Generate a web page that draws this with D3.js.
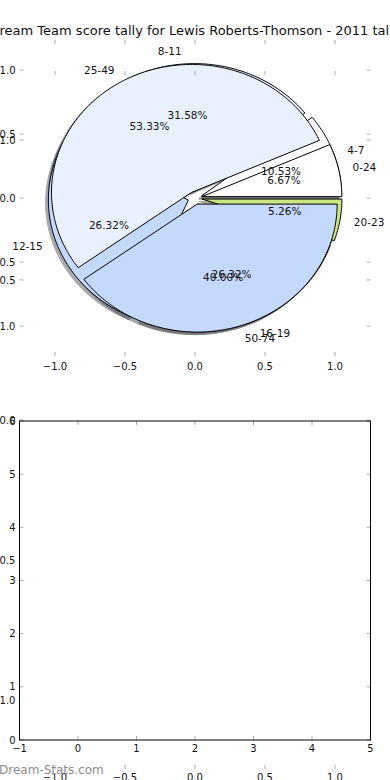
<!DOCTYPE html>
<html>
<head>
<meta charset="utf-8">
<title>Dream Team score tally</title>
<script src="https://d3js.org/d3.v7.min.js"></script>
<style>
  body { margin: 0; background: #fff; }
  svg text { font-family: "DejaVu Sans", sans-serif; }
</style>
</head>
<body>
<div id="chartDiv"></div>
<script>
var title = "Dream Team score tally for Lewis Roberts-Thomson - 2011 tally";

// score bands, drawn first (underneath)
var bandLabels = ["4-7", "8-11", "12-15", "16-19", "20-23"];
var bandCounts = [2, 6, 5, 5, 1];

// wide bands, drawn on top of the first pie
var rangeLabels = ["0-24", "25-49", "50-74"];
var rangeCounts = [1, 8, 6];

var pieTicks = [-1, -0.5, 0, 0.5, 1];
var gridXTicks = [-1, 0, 1, 2, 3, 4, 5];
var gridYTicks = [0, 1, 2, 3, 4, 5, 6];

var wedgeColors = ["#ffffff", "#eaf1fe", "#c5d9fd", "#f6e4b4", "#cbe783"];

var W = 390, H = 780;
var svg = d3.select("#chartDiv").append("svg")
  .attr("width", W).attr("height", H);

// pie axes (upper) and the second, stretched pie axes that sits behind the grid
var xPie = d3.scaleLinear().domain([-1.2536, 1.2536]).range([19.5, 370.5]);
var yTop = d3.scaleLinear().domain([-158 / 128, 158 / 128]).range([356, 40]);
var yLow = d3.scaleLinear().domain([-1.246, 1.246]).range([769, 71]);
// empty grid axes
var xGrid = d3.scaleLinear().domain([-1, 5]).range([19.5, 370.5]);
var yGrid = d3.scaleLinear().domain([0, 6]).range([740, 421]);

var fmtTick = function(v) { return d3.format(".1f")(v).replace("-", "\u2212"); };
var tickCol = "#aaa";

function tickMarks(g, x, y, ticksX, ticksY) {
  var x0 = x.range()[0], x1 = x.range()[1];
  var y0 = y.range()[1], y1 = y.range()[0];
  ticksX.forEach(function(t) {
    g.append("line").attr("x1", x(t)).attr("x2", x(t)).attr("y1", y1).attr("y2", y1 - 4)
      .attr("stroke", tickCol);
    g.append("line").attr("x1", x(t)).attr("x2", x(t)).attr("y1", y0).attr("y2", y0 + 4)
      .attr("stroke", tickCol);
  });
  ticksY.forEach(function(t) {
    g.append("line").attr("x1", x0).attr("x2", x0 + 4).attr("y1", y(t)).attr("y2", y(t))
      .attr("stroke", tickCol);
    g.append("line").attr("x1", x1).attr("x2", x1 - 4).attr("y1", y(t)).attr("y2", y(t))
      .attr("stroke", tickCol);
  });
}

function tickLabels(g, x, y, ticksX, ticksY, fmt, xBase) {
  var x0 = x.range()[0];
  ticksX.forEach(function(t) {
    g.append("text").attr("x", x(t)).attr("y", xBase)
      .attr("text-anchor", "middle").attr("font-size", 10).attr("fill", "#111")
      .text(fmt(t));
  });
  ticksY.forEach(function(t) {
    g.append("text").attr("x", x0 - 4).attr("y", y(t)).attr("dy", "0.36em")
      .attr("text-anchor", "end").attr("font-size", 10).attr("fill", "#111")
      .text(fmt(t));
  });
}

// angles counter-clockwise from 3 o'clock, like the original pie
var pie = d3.pie().sort(null)
  .startAngle(Math.PI / 2).endAngle(Math.PI / 2 - 2 * Math.PI);

var explode = 0.05;
var line = d3.line();

function wedgePath(a, dx, dy, y) {
  var cx = explode * Math.cos(a.mid) + dx, cy = explode * Math.sin(a.mid) + dy;
  var pts = [[xPie(cx), y(cy)]];
  var n = Math.max(4, Math.ceil((a.t2 - a.t1) * 60));
  for (var i = 0; i <= n; i++) {
    var t = a.t1 + (a.t2 - a.t1) * i / n;
    pts.push([xPie(cx + Math.cos(t)), y(cy + Math.sin(t))]);
  }
  return line(pts) + "Z";
}

function layout(counts, labels) {
  var arcs = pie(counts);
  var total = d3.sum(counts);
  arcs.forEach(function(a, i) {
    a.t1 = Math.PI / 2 - a.startAngle;
    a.t2 = Math.PI / 2 - a.endAngle;
    a.mid = (a.t1 + a.t2) / 2;
    a.label = labels[i];
    a.color = wedgeColors[i];
    a.pct = d3.format(".2f")(a.value / total * 100) + "%";
  });
  return arcs;
}

var pies = [layout(bandCounts, bandLabels), layout(rangeCounts, rangeLabels)];

var gPie = svg.append("g");
var shade = function(a) {
  var c = d3.rgb(a.color); return d3.rgb(c.r * 0.3, c.g * 0.3, c.b * 0.3);
};

// shadows first, then wedges, then texts
pies.forEach(function(arcs) {
  gPie.selectAll(null).data(arcs).enter().append("path")
    .attr("d", function(a) { return wedgePath(a, -0.02, -0.02, yTop); })
    .attr("fill", shade).attr("stroke", shade)
    .attr("opacity", 0.45);
});
pies.forEach(function(arcs) {
  gPie.selectAll(null).data(arcs).enter().append("path")
    .attr("d", function(a) { return wedgePath(a, 0, 0, yTop); })
    .attr("fill", function(a) { return a.color; })
    .attr("stroke", "#000").attr("stroke-width", 1);
});
pies.forEach(function(arcs) {
  arcs.forEach(function(a) {
    var cx = explode * Math.cos(a.mid), cy = explode * Math.sin(a.mid);
    var lx = cx + 1.1 * Math.cos(a.mid), ly = cy + 1.1 * Math.sin(a.mid);
    gPie.append("text").attr("x", xPie(lx)).attr("y", yTop(ly)).attr("dy", "0.36em")
      .attr("text-anchor", lx > 0 ? "start" : "end")
      .attr("font-size", 10.5).attr("fill", "#111").text(a.label);
    var px = cx + 0.6 * Math.cos(a.mid), py = cy + 0.6 * Math.sin(a.mid);
    gPie.append("text").attr("x", xPie(px)).attr("y", yTop(py)).attr("dy", "0.36em")
      .attr("text-anchor", "middle")
      .attr("font-size", 10.5).attr("fill", "#111").text(a.pct);
  });
});

// upper pie axes ticks
var gA = svg.append("g");
tickMarks(gA, xPie, yTop, pieTicks, pieTicks);
tickLabels(gA, xPie, yTop, pieTicks, pieTicks, fmtTick, 370);

// stretched pie axes ticks
var gB = svg.append("g");
tickMarks(gB, xPie, yLow, pieTicks, pieTicks);
tickLabels(gB, xPie, yLow, pieTicks, pieTicks, fmtTick, 781);

// empty grid axes
var gC = svg.append("g");
gC.append("rect").attr("x", xGrid(-1)).attr("y", yGrid(6))
  .attr("width", xGrid(5) - xGrid(-1)).attr("height", yGrid(0) - yGrid(6))
  .attr("fill", "#fff");
tickMarks(gC, xGrid, yGrid, gridXTicks, gridYTicks);
gC.append("rect").attr("x", xGrid(-1)).attr("y", yGrid(6))
  .attr("width", xGrid(5) - xGrid(-1)).attr("height", yGrid(0) - yGrid(6))
  .attr("fill", "none").attr("stroke", "#000").attr("stroke-width", 1);
tickLabels(gC, xGrid, yGrid, gridXTicks, gridYTicks,
  function(v) { return String(v).replace("-", "\u2212"); }, 752);

// title
svg.append("text").attr("x", 195).attr("y", 34.5).attr("text-anchor", "middle")
  .attr("font-size", 13).attr("fill", "#111").text(title);

// watermark
svg.append("text").attr("x", -1).attr("y", 774)
  .attr("font-size", 12).attr("fill", "#8c8c8c").text("Dream-Stats.com");
</script>
</body>
</html>
